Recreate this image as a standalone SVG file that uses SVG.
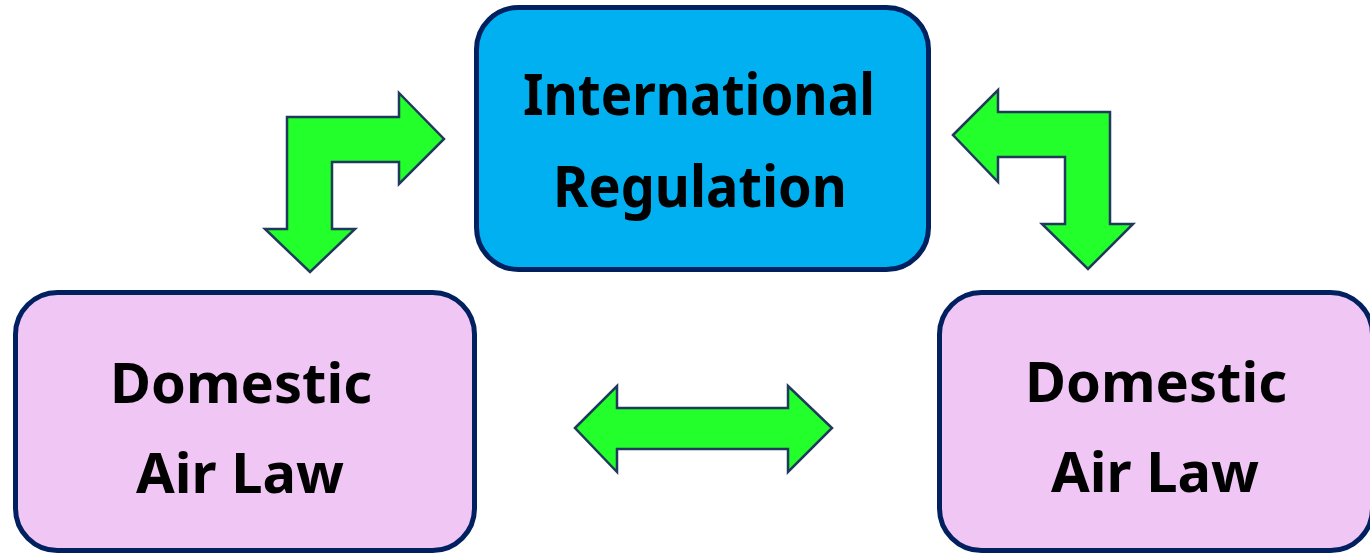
<svg xmlns="http://www.w3.org/2000/svg" width="1370" height="554" viewBox="0 0 1370 554">
<style>
.box{stroke:#002060;stroke-width:5}
.blue{fill:#00B0F0}
.pink{fill:#F0C6F5}
.arr{fill:#22FF2A;stroke:#203A5C;stroke-width:2.5;stroke-linejoin:miter}
text{font-family:"Noto Sans","Open Sans","DejaVu Sans",sans-serif;font-weight:bold;fill:#000;text-anchor:middle}
.t1{font-size:58px}
.t2{font-size:56px}
</style>
<rect width="1370" height="554" fill="#fff"/>
<g id="connectors">
<path class="arr" d="M287,117 L399,117 L399,93 L444,139 L399,184 L399,162 L332,162 L332,229 L355,229 L310,272 L265,229 L287,229 Z"/>
<path class="arr" d="M953,135 L998,90 L998,112 L1110,112 L1110,224 L1133,224 L1088,269 L1042,224 L1065,224 L1065,157 L998,157 L998,182 Z"/>
<path class="arr" d="M575,428 L617,386 L617,408 L788,408 L788,386 L832,428 L788,472 L788,449 L617,449 L617,472 Z"/>
</g>
<g id="node-international">
<rect class="box blue" x="476.5" y="7.5" width="452" height="262" rx="42"/>
<text class="t1" x="699" y="115" textLength="352" lengthAdjust="spacingAndGlyphs">International</text>
<text class="t1" x="700" y="207" textLength="294" lengthAdjust="spacingAndGlyphs">Regulation</text>
</g>
<g id="node-domestic-left">
<rect class="box pink" x="15.5" y="292.5" width="459" height="258" rx="42"/>
<text class="t2" x="241" y="403">Domestic</text>
<text class="t2" x="240" y="493">Air Law</text>
</g>
<g id="node-domestic-right">
<rect class="box pink" x="939.5" y="292.5" width="433" height="258" rx="42"/>
<text class="t2" x="1156" y="402">Domestic</text>
<text class="t2" x="1155" y="492">Air Law</text>
</g>
</svg>
